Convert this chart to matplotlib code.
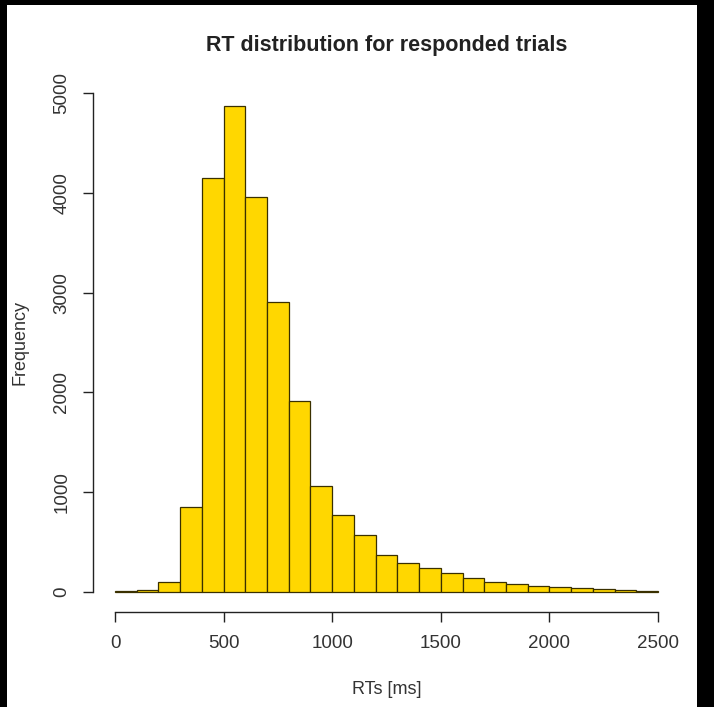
import matplotlib
matplotlib.use("Agg")
import matplotlib.pyplot as plt
from matplotlib.patches import Rectangle
import numpy as np

# histogram bins (ms) and counts
bin_edges = [0, 100, 200, 300, 400, 500, 600, 700, 800, 900, 1000, 1100, 1200,
             1300, 1400, 1500, 1600, 1700, 1800, 1900, 2000, 2100, 2200, 2300,
             2400, 2500]
counts = [4, 14, 100, 850, 4150, 4875, 3955, 2910, 1915, 1060, 770, 565, 370,
          285, 240, 190, 140, 100, 80, 60, 45, 37, 30, 13, 10]
x_ticks = [0, 500, 1000, 1500, 2000, 2500]
y_ticks = [0, 1000, 2000, 3000, 4000, 5000]

plt.rcParams["font.family"] = ["Liberation Sans", "DejaVu Sans"]

W, H = 714, 707
fig = plt.figure(figsize=(W / 100, H / 100), dpi=100, facecolor="black")
# white drawing area inside the black frame of the screenshot
fig.patches.append(Rectangle((7 / W, 0), (697 - 7) / W, (H - 5) / H,
                             transform=fig.transFigure, facecolor="white",
                             edgecolor="none", zorder=-10))

ax = fig.add_axes([93.3 / W, 1 - 611.6 / H, (679.7 - 93.3) / W, (611.6 - 73.4) / H])
ax.set_facecolor("none")

edges = np.array(bin_edges)
ax.bar(edges[:-1], counts, width=np.diff(edges), align="edge",
       color="#FFD700", edgecolor="#3a3000", linewidth=0.9)

ax.set_xlim(-100, 2600)
ax.set_ylim(-200, 5200)

for side in ("top", "right"):
    ax.spines[side].set_visible(False)
ax.spines["left"].set_bounds(0, 5000)
ax.spines["bottom"].set_bounds(0, 2500)
for side in ("left", "bottom"):
    ax.spines[side].set_linewidth(1.0)
    ax.spines[side].set_color("#222222")

ax.set_xticks(x_ticks)
ax.set_yticks(y_ticks)
ax.tick_params(axis="both", length=7.5, width=1.0, color="#222222",
               labelsize=13.5, labelcolor="#333333")
ax.tick_params(axis="x", pad=9.5)
ax.tick_params(axis="y", pad=9)
plt.setp(ax.get_yticklabels(), rotation=90, va="center")

ax.set_title("RT distribution for responded trials", fontsize=15.5,
             fontweight="bold", color="#222222", pad=16)
ax.set_xlabel("RTs [ms]", fontsize=13, color="#333333", labelpad=21)
ax.set_ylabel("Frequency", fontsize=13, color="#333333", labelpad=18)

fig.savefig("out.png", dpi=100, facecolor=fig.get_facecolor())
